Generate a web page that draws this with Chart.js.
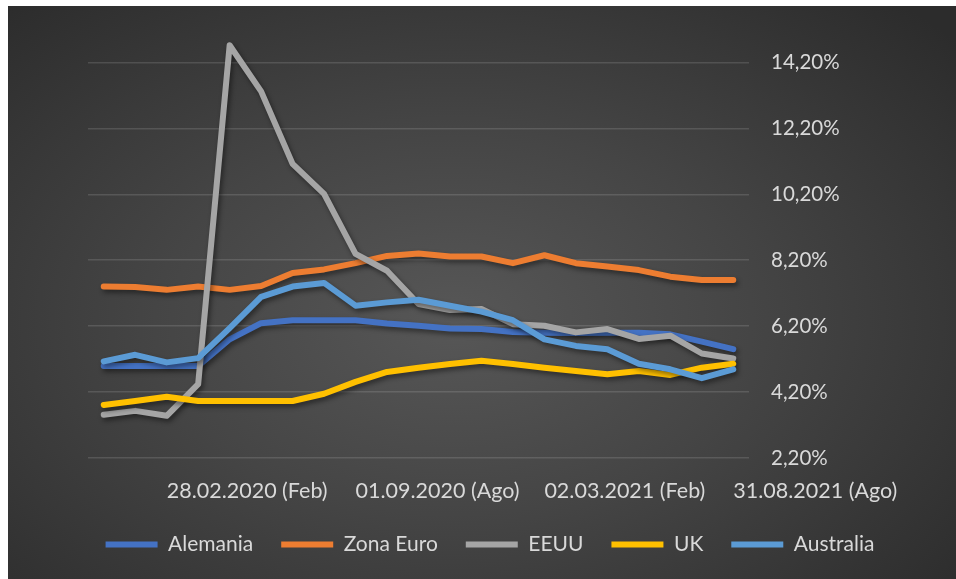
<!DOCTYPE html>
<html>
<head>
<meta charset="utf-8">
<script src="https://cdn.jsdelivr.net/npm/chart.js@4.4.1/dist/chart.umd.min.js"></script>
<style>
  html, body { margin: 0; padding: 0; background: #fff; }
  #panel {
    position: absolute; left: 8px; top: 6px; width: 948px; height: 573px;
    background: radial-gradient(ellipse 70% 75% at 47% 55%, #575757 0%, #454545 45%, #2c2c2c 100%);
  }
</style>
</head>
<body>
<div id="panel"><canvas id="lineChart" width="948" height="573"></canvas></div>
<script>
// monthly points, labelled every six months
var categories = ['', '', '28.02.2020 (Feb)', '', '', '', '', '', '01.09.2020 (Ago)', '', '',
                  '', '', '', '02.03.2021 (Feb)', '', '', '', '', '', '31.08.2021 (Ago)'];

var alemania  = [4.99, 4.99, 4.99, 4.99, 5.80, 6.29, 6.38, 6.38, 6.38, 6.28, 6.21,
                 6.13, 6.11, 6.02, 6.00, 5.99, 6.00, 6.00, 5.95, 5.73, 5.50];
var zonaEuro  = [7.40, 7.39, 7.30, 7.40, 7.30, 7.42, 7.81, 7.92, 8.11, 8.33, 8.40,
                 8.31, 8.31, 8.11, 8.35, 8.11, 8.01, 7.90, 7.70, 7.60, 7.60];
var eeuu      = [3.51, 3.63, 3.48, 4.44, 14.72, 13.32, 11.12, 10.21, 8.39, 7.88, 6.87,
                 6.69, 6.72, 6.26, 6.21, 6.01, 6.11, 5.81, 5.91, 5.37, 5.22];
var uk        = [3.81, 3.93, 4.06, 3.93, 3.93, 3.93, 3.93, 4.15, 4.51, 4.81, 4.94,
                 5.05, 5.15, 5.05, 4.94, 4.84, 4.74, 4.84, 4.72, 4.94, 5.06];
var australia = [5.13, 5.33, 5.10, 5.23, 6.14, 7.09, 7.40, 7.51, 6.82, 6.92, 7.00,
                 6.82, 6.64, 6.38, 5.80, 5.60, 5.50, 5.06, 4.89, 4.62, 4.89];

var yTicks = [2.2, 4.2, 6.2, 8.2, 10.2, 12.2, 14.2];

var textColor = '#d9d9d9';

function serie(label, data, color, order) {
    return {
        label: label,
        data: data,
        borderColor: color,
        backgroundColor: color,
        borderWidth: 6,
        borderCapStyle: 'round',
        borderJoinStyle: 'round',
        pointRadius: 0,
        tension: 0,
        yAxisID: 'y',
        order: order
    };
}

// soft drop shadow under the lines
var lineShadow = {
    id: 'lineShadow',
    beforeDatasetsDraw: function (chart) {
        var ctx = chart.ctx;
        ctx.save();
        ctx.shadowColor = 'rgba(0,0,0,0.45)';
        ctx.shadowBlur = 5;
        ctx.shadowOffsetX = 2;
        ctx.shadowOffsetY = 3;
    },
    afterDatasetsDraw: function (chart) {
        chart.ctx.restore();
    }
};

var lineData = {
    labels: categories,
    datasets: [
        serie('Alemania', alemania, '#4472C4', 5),
        serie('Zona Euro', zonaEuro, '#ED7D31', 4),
        serie('EEUU', eeuu, '#A5A5A5', 3),
        serie('UK', uk, '#FFC000', 2),
        serie('Australia', australia, '#5B9BD5', 1)
    ]
};

var lineOptions = {
    responsive: false,
    animation: false,
    layout: { padding: { left: 16, right: 0, top: 30, bottom: 14 } },
    scales: {
        x: {
            offset: true,
            grid: { display: false, drawTicks: false },
            border: { display: false },
            ticks: {
                autoSkip: false,
                maxRotation: 0,
                minRotation: 0,
                align: 'start',
                padding: 20,
                color: textColor,
                font: { family: 'Lato', size: 21.5 },
                callback: function (v, i) { return categories[i]; }
            },
            afterFit: function (s) { s.paddingLeft = 0; s.paddingRight = 0; s.height = 48; }
        },
        y: {
            position: 'right',
            min: 2.2,
            max: 15,
            grid: { color: 'rgba(255,255,255,0.13)', lineWidth: 1.5, drawTicks: false },
            border: { display: false },
            ticks: {
                padding: 22,
                color: textColor,
                font: { family: 'Lato', size: 20.5 },
                callback: function (v) { return v.toFixed(2).replace('.', ',') + '%'; }
            },
            afterBuildTicks: function (s) {
                s.ticks = yTicks.map(function (v) { return { value: v }; });
            },
            afterFit: function (s) { s.paddingTop = 0; s.paddingBottom = 0; s.width = 207; }
        },
        // empty spacer on the left so the plot starts where the legend doesn't
        spacer: {
            position: 'left',
            grid: { display: false, drawTicks: false },
            border: { display: false },
            ticks: { display: false },
            afterFit: function (s) { s.paddingTop = 0; s.paddingBottom = 0; s.width = 64; }
        }
    },
    plugins: {
        tooltip: { enabled: false },
        legend: {
            position: 'bottom',
            labels: {
                usePointStyle: true,
                pointStyle: 'line',
                pointStyleWidth: 52,
                padding: 28,
                color: textColor,
                font: { family: 'Lato', size: 21 },
                sort: function (a, b) { return a.datasetIndex - b.datasetIndex; }
            }
        }
    }
};

var ctx = document.getElementById('lineChart').getContext('2d');
new Chart(ctx, { type: 'line', data: lineData, options: lineOptions, plugins: [lineShadow] });
</script>
</body>
</html>
